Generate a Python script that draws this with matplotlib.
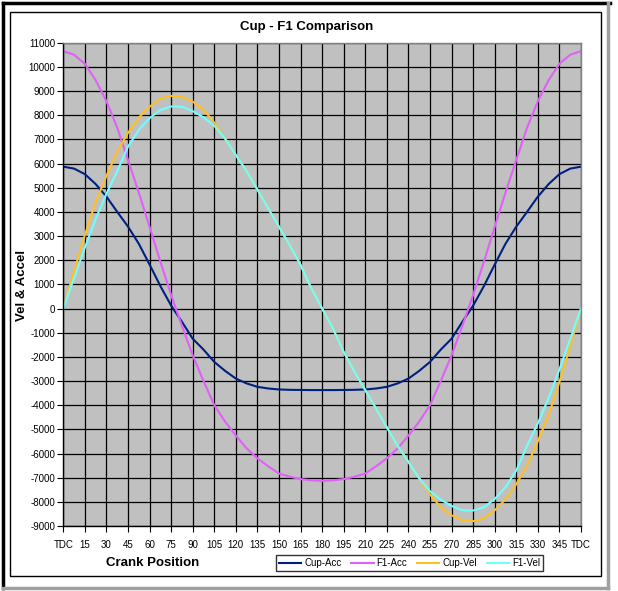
import matplotlib
matplotlib.use("Agg")
import matplotlib.pyplot as plt
from matplotlib.lines import Line2D
from matplotlib.patches import Rectangle

plt.rcParams["font.family"] = ["Liberation Sans", "DejaVu Sans"]

# ──────────────────────────────────────────────────────────────────────────
# Data — crank angle (deg) and values
# ──────────────────────────────────────────────────────────────────────────

crank_deg = [0, 7.5, 15, 22.5, 30, 37.5, 45, 52.5, 60, 67.5, 75, 82.5, 90,
             97.5, 105, 112.5, 120, 127.5, 135, 142.5, 150, 157.5, 165, 172.5,
             180, 187.5, 195, 202.5, 210, 217.5, 225, 232.5, 240, 247.5, 255,
             262.5, 270, 277.5, 285, 292.5, 300, 307.5, 315, 322.5, 330, 337.5,
             345, 352.5, 360]

cup_acc = [5870, 5790, 5560, 5150, 4630, 4000, 3390, 2680, 1820, 930, 120,
           -550, -1250, -1700, -2210, -2580, -2900, -3100, -3240, -3310,
           -3350, -3365, -3370, -3375, -3375, -3375, -3370, -3365, -3350,
           -3310, -3240, -3100, -2900, -2580, -2210, -1700, -1250, -550, 120,
           930, 1820, 2680, 3390, 4000, 4630, 5150, 5560, 5790, 5870]

f1_acc = [10650, 10500, 10130, 9450, 8580, 7480, 6150, 4800, 3380, 1940, 560,
          -720, -1940, -3000, -4000, -4680, -5260, -5790, -6200, -6530, -6830,
          -6960, -7060, -7110, -7130, -7110, -7060, -6960, -6830, -6530,
          -6200, -5790, -5260, -4680, -4000, -3000, -1940, -720, 560, 1940,
          3380, 4800, 6150, 7480, 8580, 9450, 10130, 10500, 10650]

cup_vel = [0, 1550, 3040, 4400, 5490, 6490, 7270, 7900, 8350, 8690, 8800,
           8750, 8560, 8230, 7690, 7030, 6350, 5680, 4920, 4140, 3380, 2620,
           1800, 830, 0, -830, -1800, -2620, -3380, -4140, -4920, -5680,
           -6350, -7030, -7690, -8230, -8560, -8750, -8800, -8690, -8350,
           -7900, -7270, -6490, -5490, -4400, -3040, -1550, 0]

f1_vel = [0, 1260, 2520, 3700, 4750, 5680, 6700, 7390, 7880, 8220, 8360,
          8350, 8170, 7910, 7560, 7030, 6350, 5680, 4920, 4140, 3380, 2620,
          1800, 830, 0, -830, -1800, -2620, -3380, -4140, -4920, -5680,
          -6350, -7030, -7560, -7910, -8170, -8350, -8360, -8220, -7880,
          -7390, -6700, -5680, -4750, -3700, -2520, -1260, 0]

series = [
    ("Cup-Acc", cup_acc, "#002080"),
    ("F1-Acc", f1_acc, "#E060F8"),
    ("Cup-Vel", cup_vel, "#FFC020"),
    ("F1-Vel", f1_vel, "#70FFFF"),
]

x_ticks = list(range(0, 361, 15))
x_labels = ["TDC"] + [str(d) for d in x_ticks[1:-1]] + ["TDC"]
y_ticks = list(range(-9000, 11001, 1000))

# ──────────────────────────────────────────────────────────────────────────
# Layout (pixel geometry of the reference)
# ──────────────────────────────────────────────────────────────────────────

W, H = 618, 591


def fx(x):
    return x / W


def fy(y):
    return 1 - y / H


fig = plt.figure(figsize=(W / 100, H / 100), dpi=100)
fig.patch.set_facecolor("white")

left, right, top, bottom = 63.3, 581, 42.7, 526
ax = fig.add_axes([fx(left), fy(bottom), fx(right - left), (bottom - top) / H])
ax.set_facecolor("#C0C0C0")

for label, values, color in series:
    ax.plot(crank_deg, values, color=color, linewidth=1.5, label=label,
            solid_joinstyle="round")

ax.set_xlim(0, 360)
ax.set_ylim(-9000, 11000)
ax.set_xticks(x_ticks)
ax.set_xticklabels(x_labels)
ax.set_yticks(y_ticks)
ax.set_yticklabels([str(v) for v in y_ticks])
ax.tick_params(axis="both", labelsize=7, length=4, width=0.8, color="black",
               pad=2)
ax.tick_params(axis="x", pad=6)
ax.grid(True, color="black", linewidth=0.9)
ax.set_axisbelow(True)
for side in ("top", "right"):
    ax.spines[side].set_color("#808080")
for side in ("left", "bottom"):
    ax.spines[side].set_color("black")
for sp in ax.spines.values():
    sp.set_linewidth(1.0)

fig.text(fx(307), fy(27), "Cup - F1 Comparison", ha="center", va="center",
         fontsize=9.5, fontweight="bold")
fig.text(fx(153), fy(563), "Crank Position", ha="center", va="center",
         fontsize=9.5, fontweight="bold")
fig.text(fx(22), fy(285), "Vel & Accel", ha="center", va="center",
         rotation=90, fontsize=9.5, fontweight="bold")

handles = [Line2D([0], [0], color=c, linewidth=1.5) for _, _, c in series]
leg = fig.legend(handles, [s[0] for s in series], loc="center",
                 bbox_to_anchor=(fx(409.5), fy(563)), ncol=4, fontsize=7,
                 frameon=True, fancybox=False, edgecolor="black",
                 handlelength=2.3, handletextpad=0.3, columnspacing=1.0,
                 borderpad=0.35)
leg.get_frame().set_linewidth(1.0)

# chart-area frame: thin black box, thick black top/left, grey shadow
fig.patches.append(Rectangle((fx(9.5), fy(576)), fx(601 - 9.5), (576 - 12) / H,
                             transform=fig.transFigure, fill=False,
                             edgecolor="black", linewidth=1.0))
fig.lines.append(Line2D([fx(3), fx(3)], [fy(588), fy(3)], transform=fig.transFigure,
                        color="black", linewidth=2.5))
fig.lines.append(Line2D([fx(3), fx(610)], [fy(3), fy(3)], transform=fig.transFigure,
                        color="black", linewidth=2.5))
fig.lines.append(Line2D([fx(608), fx(608)], [fy(3), fy(588)], transform=fig.transFigure,
                        color="#A0A0A0", linewidth=2.5))
fig.lines.append(Line2D([fx(3), fx(608)], [fy(588), fy(588)], transform=fig.transFigure,
                        color="#A0A0A0", linewidth=2.5))

fig.savefig("out.png", dpi=100)
